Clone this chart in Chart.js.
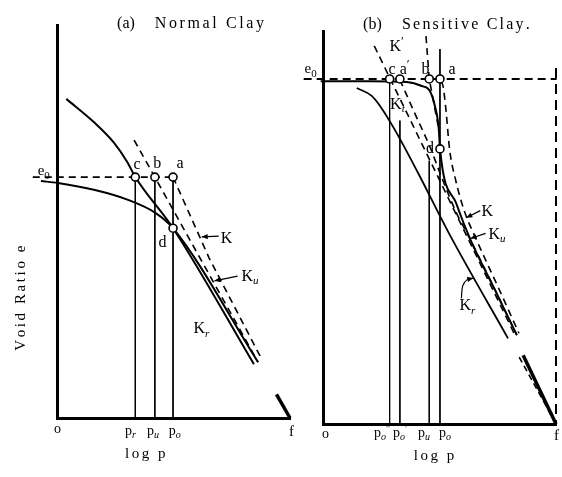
<!DOCTYPE html>
<html><head><meta charset="utf-8">
<script src="https://cdn.jsdelivr.net/npm/chart.js@4/dist/chart.umd.min.js"></script>
<style>
html,body{margin:0;padding:0;background:#fff;}
#wrap{position:relative;width:562px;height:477px;overflow:hidden;}
canvas{position:absolute;left:0;top:0;}
</style></head><body>
<div id="wrap"><canvas id="ca" width="562" height="477"></canvas><canvas id="cb" width="562" height="477"></canvas></div>
<script>
// ---------- data: x = log p (o = 0, f = 10), y = void ratio e (0..10) ----------
// Panel (a) Normal Clay
const aE0 = 6.13;
const aPc = 3.36, aPu = 4.2, aPo = 4.98;           // p_r, p_u, p_o
const aDpoint = [4.98, 4.83];
const aUpperCurve = [[0.40,8.12],[1.58,7.53],[2.45,7.00],[3.02,6.51],[3.36,6.13],[4.98,4.83],[8.45,1.37]];
const aLowerCurve = [[-0.69,6.03],[0.04,5.98],[1.63,5.80],[3.05,5.55],[4.22,5.22],[4.98,4.83],[8.63,1.42]];
const aDashB = [[3.31,7.07],[4.2,6.13],[8.63,1.42]];
const aDashK = [[4.98,6.13],[6.53,4.07],[8.8,1.48]];
const aTail = [[9.42,0.6],[10,0]];
const aArrowK = [[6.94,4.63],[6.21,4.61]];
const aArrowKu = [[7.75,3.61],[6.76,3.49]];

// Panel (b) Sensitive Clay
const bE0 = 8.78;
const bPc = 2.86, bPa1 = 3.3, bPu = 4.56, bPo = 5.02;  // p_o'', p_o', p_u, p_o
const bDpoint = [5.02, 7.0];
const bUndisturbed = [[-0.1,8.72],[2.0,8.72],[3.59,8.70],[4.24,8.6],[4.58,8.48],[4.8,8.1],[4.97,7.5],[5.02,7.0],[5.72,5.61],[6.34,4.67],[7.35,3.45],[8.32,2.26]];
const bDashK = [[5.05,8.7],[5.14,8.63],[5.28,7.97],[5.43,7.0],[5.7,6.19],[6.06,5.43],[6.6,4.67],[7.48,3.53],[8.41,2.31]];
const bDashKprime = [[2.2,9.62],[8.24,2.26]];
const bDashKt = [[3.3,8.76],[3.95,7.89],[4.57,7.08],[5.15,6.19],[5.72,5.38],[6.34,4.67],[8.32,2.26]];
const bDashV = [[4.42,9.87],[4.56,8.78],[4.94,7.59]];
const bRemolded = [[1.45,8.55],[2.09,8.35],[2.44,8.1],[3.06,7.51],[4.07,6.40],[5.39,4.87],[7.94,2.18]];
const bTail = [[8.59,1.75],[10,0]];
const bTailDash = [[8.42,1.7],[9.91,0.1]];
const bArrowK = [[6.75,5.43],[6.15,5.25]];
const bArrowKu = [[6.98,4.85],[6.33,4.72]];
const bArrowKr = [[5.94,3.2],[6.0,3.52],[6.2,3.68],[6.45,3.71]];

// text
const titleA = ['(a)', 'Normal Clay'];
const titleB = ['(b)', 'Sensitive Clay.'];
const yTitle = 'Void Ratio e';
const xTitle = 'log p';

// ---------- helpers ----------
const FONT = '"Liberation Serif","DejaVu Serif",serif';
const P = arr => arr.map(([x,y]) => ({x, y}));
function line(data, o = {}) {
  return Object.assign({data: P(data), showLine: true, borderColor: '#000', borderWidth: 1.8,
    pointRadius: 0, fill: false, clip: false, tension: 0, order: 2}, o);
}
const dash = [7,5];
function curve(data, o = {}) { return line(data, Object.assign({cubicInterpolationMode: 'monotone'}, o)); }
function vline(x, y0, y1) { return line([[x,y0],[x,y1]], {borderWidth: 1}); }
function circles(pts) {
  return {data: P(pts), showLine: false, pointRadius: 4, pointBorderWidth: 1.6,
    pointBackgroundColor: '#fff', pointBorderColor: '#000', clip: false, order: 0};
}

function drawParts(ctx, parts, x, y, size, sp, align) {
  const seg = parts.map(([t, k]) => {
    let f, dy = 0;
    if (k === 's') { f = `italic ${Math.round(size*0.7)}px ${FONT}`; dy = size*0.22; }
    else if (k === 's0') { f = `${Math.round(size*0.7)}px ${FONT}`; dy = size*0.25; }
    else if (k === 'sup') { f = `${Math.round(size*0.8)}px ${FONT}`; dy = -size*0.35; }
    else f = `${size}px ${FONT}`;
    ctx.font = f;
    let w = 0; for (const ch of t) w += ctx.measureText(ch).width + sp;
    return {t, f, dy, w, k};
  });
  let total = seg.reduce((s, g) => s + g.w, 0) - sp;
  let cx = align === 'center' ? x - total/2 : x;
  for (const g of seg) {
    ctx.font = g.f;
    let xx = cx;
    for (const ch of g.t) { ctx.fillText(ch, xx, y + g.dy); xx += ctx.measureText(ch).width + sp; }
    cx += g.w;
  }
}

const annot = {
  id: 'annot',
  afterDatasetsDraw(chart, args, opts) {
    const ctx = chart.ctx, xs = chart.scales.x, ys = chart.scales.y;
    ctx.save();
    ctx.fillStyle = '#000'; ctx.textBaseline = 'alphabetic'; ctx.textAlign = 'left';
    chart.data.datasets.forEach(ds => {
      if (!ds.arrowHead) return;
      const n = ds.data.length, p1 = ds.data[n-2], p2 = ds.data[n-1];
      const x1 = xs.getPixelForValue(p1.x), y1 = ys.getPixelForValue(p1.y);
      const x2 = xs.getPixelForValue(p2.x), y2 = ys.getPixelForValue(p2.y);
      const a = Math.atan2(y2-y1, x2-x1), L = 6, W = 2.6;
      ctx.beginPath();
      ctx.moveTo(x2, y2);
      ctx.lineTo(x2 - L*Math.cos(a) + W*Math.sin(a), y2 - L*Math.sin(a) - W*Math.cos(a));
      ctx.lineTo(x2 - L*Math.cos(a) - W*Math.sin(a), y2 - L*Math.sin(a) + W*Math.cos(a));
      ctx.closePath(); ctx.fill();
    });
    for (const l of opts.labels) {
      const px = xs.getPixelForValue(l.x), py = ys.getPixelForValue(l.y);
      if (l.rot) {
        ctx.save(); ctx.translate(px, py); ctx.rotate(-Math.PI/2);
        drawParts(ctx, l.p, 0, 0, l.size || 16, l.sp || 0, 'center');
        ctx.restore();
      } else drawParts(ctx, l.p, px, py, l.size || 16, l.sp || 0, l.align);
    }
    ctx.restore();
  }
};

function makeChart(id, datasets, labels, pad) {
  const ax = {type: 'linear', min: 0, max: 10, ticks: {display: false, padding: 0},
    grid: {display: false, drawTicks: false, tickLength: 0},
    border: {display: true, color: '#000', width: 3}};
  return new Chart(document.getElementById(id), {
    type: 'scatter',
    data: {datasets},
    options: {
      responsive: false, animation: false, devicePixelRatio: 1, events: [],
      layout: {padding: pad},
      plugins: {legend: {display: false}, tooltip: {enabled: false}, annot: {labels}},
      scales: {x: Object.assign({position: 'bottom'}, ax), y: Object.assign({position: 'left'}, ax)}
    },
    plugins: [annot]
  });
}

// ---------- panel (a) ----------
const dsA = [
  circles([[aPc,aE0],[aPu,aE0],[aPo,aE0],aDpoint]),
  line([[-1.04,aE0],[aPo,aE0]], {borderDash: dash, borderWidth: 1.6}),
  curve(aUpperCurve, {borderWidth: 2}),
  curve(aLowerCurve, {borderWidth: 2}),
  line(aDashB, {borderDash: dash, borderWidth: 1.6}),
  line(aDashK, {borderDash: dash, borderWidth: 1.6}),
  vline(aPc, aE0, 0), vline(aPu, aE0, 0), vline(aPo, aE0, 0),
  line(aTail, {borderWidth: 3.5}),
  line(aArrowK, {borderWidth: 1.2, arrowHead: true}),
  line(aArrowKu, {borderWidth: 1.2, arrowHead: true}),
];
const labA = [
  {p: [[titleA[0],'m']], x: 2.58, y: 9.92, size: 16},
  {p: [[titleA[1],'m']], x: 4.2, y: 9.92, size: 16, sp: 2.6},
  {p: [['e','m'],['0','s0']], x: -0.83, y: 6.18, size: 15},
  {p: [['c','m']], x: 3.44, y: 6.34, align: 'center'},
  {p: [['b','m']], x: 4.3, y: 6.36, align: 'center'},
  {p: [['a','m']], x: 5.28, y: 6.36, align: 'center'},
  {p: [['d','m']], x: 4.53, y: 4.35, align: 'center'},
  {p: [['K','m']], x: 7.03, y: 4.45},
  {p: [['K','m'],['u','s']], x: 7.92, y: 3.49},
  {p: [['K','m'],['r','s']], x: 5.86, y: 2.16},
  {p: [['o','m']], x: 0.02, y: -0.38, align: 'center', size: 14},
  {p: [['p','m'],['r','s']], x: 2.92, y: -0.43, size: 14},
  {p: [['p','m'],['u','s']], x: 3.86, y: -0.43, size: 14},
  {p: [['p','m'],['o','s']], x: 4.8, y: -0.43, size: 14},
  {p: [['f','m']], x: 10.06, y: -0.46, align: 'center', size: 15},
  {p: [[xTitle,'m']], x: 2.92, y: -1.02, size: 15, sp: 2.5},
  {p: [[yTitle,'m']], x: -1.38, y: 3.05, size: 15, sp: 2.6, rot: true},
];
makeChart('ca', dsA, labA, {left: 57, top: 25, right: 272, bottom: 59});

// ---------- panel (b) ----------
const dsB = [
  circles([[bPc,bE0],[bPa1,bE0],[bPu,bE0],[bPo,bE0],bDpoint]),
  line([[-0.83,bE0],[10.03,bE0]], {borderDash: [8,5], borderWidth: 2}),
  line([[10,9.06],[10,0]], {borderDash: [10,6], borderWidth: 2}),
  curve(bUndisturbed, {borderWidth: 2}),
  curve(bRemolded, {borderWidth: 1.8}),
  curve(bDashK, {borderDash: dash, borderWidth: 1.6}),
  line(bDashKprime, {borderDash: dash, borderWidth: 1.6}),
  curve(bDashKt, {borderDash: dash, borderWidth: 1.6}),
  line(bDashV, {borderDash: dash, borderWidth: 1.6}),
  vline(bPc, bE0, 0), vline(bPa1, 7.72, 0), vline(bPu, 6.7, 0), vline(bPo, 9.54, 0),
  line(bTail, {borderWidth: 3.5}),
  line(bTailDash, {borderDash: [6,4], borderWidth: 1.6}),
  line(bArrowK, {borderWidth: 1.2, arrowHead: true}),
  line(bArrowKu, {borderWidth: 1.2, arrowHead: true}),
  curve(bArrowKr, {borderWidth: 1.2, arrowHead: true, cubicInterpolationMode: 'default', tension: 0.4}),
];
const labB = [
  {p: [[titleB[0],'m']], x: 1.72, y: 10.05, size: 16},
  {p: [[titleB[1],'m']], x: 3.39, y: 10.05, size: 16, sp: 2.2},
  {p: [['e','m'],['0','s0']], x: -0.79, y: 8.93, size: 15},
  {p: [['c','m']], x: 2.96, y: 8.91, align: 'center'},
  {p: [['a','m'],['\u2032','sup']], x: 3.29, y: 8.91},
  {p: [['b','m']], x: 4.23, y: 8.91},
  {p: [['a','m']], x: 5.39, y: 8.91},
  {p: [['K','m'],['\u2032','sup']], x: 2.85, y: 9.49},
  {p: [['K','m'],['t','s']], x: 2.88, y: 8.02},
  {p: [['d','m']], x: 4.59, y: 6.9, align: 'center'},
  {p: [['K','m']], x: 6.8, y: 5.28},
  {p: [['K','m'],['u','s']], x: 7.1, y: 4.72},
  {p: [['K','m'],['r','s']], x: 5.86, y: 2.89},
  {p: [['o','m']], x: 0.11, y: -0.36, align: 'center', size: 14},
  {p: [['p','m'],['o','s'],['\u2033','sup']], x: 2.19, y: -0.33, size: 14},
  {p: [['p','m'],['o','s'],['\u2032','sup']], x: 3.0, y: -0.33, size: 14},
  {p: [['p','m'],['u','s']], x: 4.08, y: -0.33, size: 14},
  {p: [['p','m'],['o','s']], x: 4.98, y: -0.33, size: 14},
  {p: [['f','m']], x: 10.02, y: -0.41, align: 'center', size: 15},
  {p: [[xTitle,'m']], x: 3.9, y: -0.91, size: 15, sp: 2.5},
];
makeChart('cb', dsB, labB, {left: 323, top: 31, right: 6, bottom: 53});
</script>
</body></html>
